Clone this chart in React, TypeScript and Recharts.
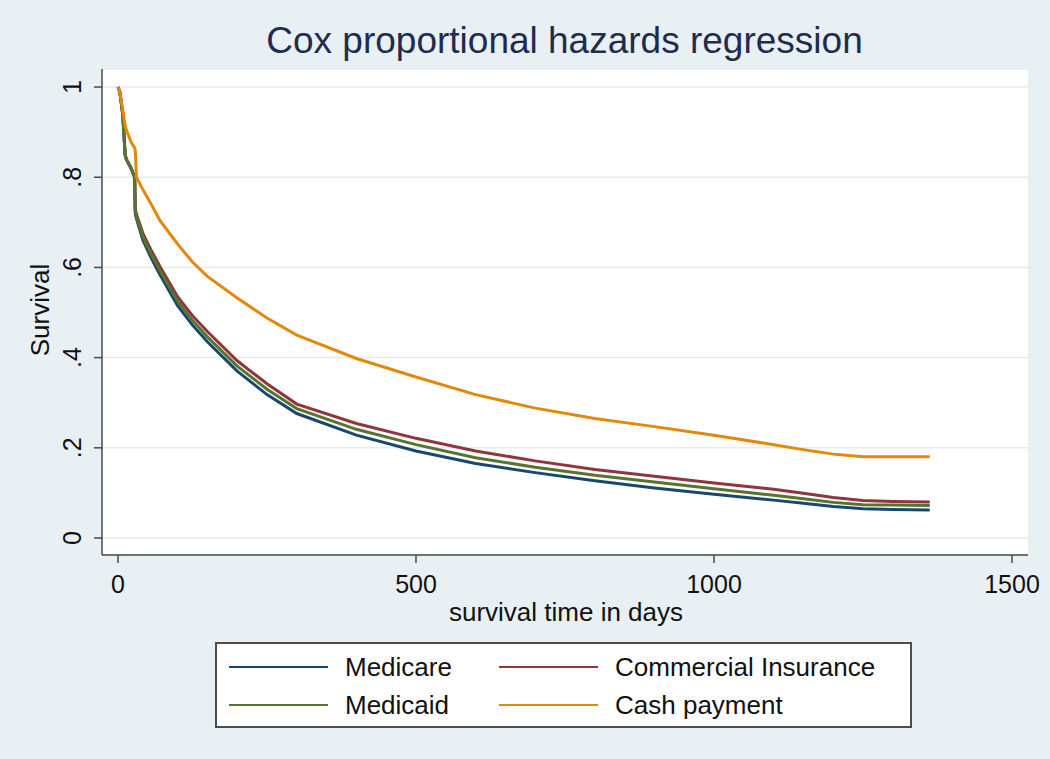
import React from 'react';
import { LineChart, Line, XAxis, YAxis, CartesianGrid } from 'recharts';

// survival estimates, by day
const days = [0, 3, 8, 12, 14, 22, 28, 29, 31, 42, 55, 70, 100, 125, 150, 200, 250, 300, 400, 500, 600, 700, 800, 900, 1000, 1100, 1150, 1200, 1250, 1300, 1362];
const medicare = [1, 0.99, 0.94, 0.85, 0.84, 0.82, 0.8, 0.72, 0.708, 0.66, 0.623, 0.585, 0.515, 0.472, 0.435, 0.37, 0.318, 0.276, 0.228, 0.193, 0.165, 0.145, 0.127, 0.111, 0.097, 0.084, 0.077, 0.07, 0.065, 0.063, 0.062];
const commercial = [1, 0.99, 0.94, 0.85, 0.84, 0.82, 0.8, 0.73, 0.718, 0.675, 0.64, 0.603, 0.535, 0.493, 0.458, 0.393, 0.342, 0.297, 0.254, 0.221, 0.193, 0.171, 0.152, 0.137, 0.122, 0.108, 0.099, 0.09, 0.083, 0.081, 0.08];
const medicaid = [1, 0.99, 0.94, 0.85, 0.84, 0.82, 0.8, 0.725, 0.713, 0.667, 0.631, 0.594, 0.525, 0.482, 0.446, 0.381, 0.33, 0.287, 0.241, 0.207, 0.178, 0.157, 0.139, 0.124, 0.109, 0.095, 0.087, 0.079, 0.074, 0.073, 0.072];
const cash = [1, 0.99, 0.95, 0.915, 0.905, 0.878, 0.865, 0.86, 0.8, 0.772, 0.742, 0.705, 0.652, 0.612, 0.58, 0.532, 0.488, 0.45, 0.398, 0.357, 0.318, 0.288, 0.265, 0.247, 0.228, 0.207, 0.196, 0.186, 0.18, 0.18, 0.18];

const xTicks = [0, 500, 1000, 1500];
const yTicks = [0, 0.2, 0.4, 0.6, 0.8, 1];
const yTickLabels = ['0', '.2', '.4', '.6', '.8', '1'];

const series = [
  { key: 'medicare', name: 'Medicare', color: '#1a476f' },
  { key: 'commercial', name: 'Commercial Insurance', color: '#90353b' },
  { key: 'medicaid', name: 'Medicaid', color: '#55752f' },
  { key: 'cash', name: 'Cash payment', color: '#e3890a' },
];

const data = days.map((day, i) => ({
  day,
  medicare: medicare[i],
  commercial: commercial[i],
  medicaid: medicaid[i],
  cash: cash[i],
}));

const font = '"Liberation Sans", Arial, sans-serif';
const axisColor = '#4a4a4a';

const YTick = (props: any) => {
  const { x, y, payload } = props;
  const idx = yTicks.indexOf(payload.value);
  return (
    <text
      transform={`translate(${x - 13}, ${y}) rotate(-90)`}
      textAnchor="middle"
      fontSize={25}
      fontFamily={font}
      fill="#111"
    >
      {idx >= 0 ? yTickLabels[idx] : payload.value}
    </text>
  );
};

const XTick = (props: any) => {
  const { x, y, payload } = props;
  return (
    <text x={x} y={y} dy="0.71em" textAnchor="middle" fontSize={25} fontFamily={font} fill="#111">
      {payload.value}
    </text>
  );
};

const App: React.FC = () => {
  return (
    <div
      style={{
        position: 'absolute',
        left: 0,
        top: 0,
        width: 1050,
        height: 759,
        background: '#e9f0f3',
        fontFamily: font,
        overflow: 'hidden',
      }}
    >
      <div
        style={{
          position: 'absolute',
          left: 0,
          width: 1129,
          top: 20,
          textAlign: 'center',
          fontSize: 37,
          color: '#1e2d4f',
          whiteSpace: 'nowrap',
        }}
      >
        Cox proportional hazards regression
      </div>

      <div style={{ position: 'absolute', left: 0, top: 0 }}>
        <LineChart
          width={1050}
          height={759}
          data={data}
          margin={{ top: 69, right: 22, bottom: 144, left: 42 }}
        >
          <CartesianGrid
            horizontal
            vertical={false}
            stroke="#e6ebec"
            strokeWidth={1.5}
            fill="#ffffff"
          />
          <XAxis
            dataKey="day"
            type="number"
            domain={[-26.8, 1526.8]}
            ticks={xTicks}
            allowDataOverflow
            height={60}
            tickSize={8}
            tickMargin={12}
            stroke={axisColor}
            strokeWidth={1.5}
            tick={<XTick />}
          />
          <YAxis
            type="number"
            domain={[-0.0377, 1.04]}
            ticks={yTicks}
            allowDataOverflow
            width={60}
            tickSize={8}
            tickMargin={0}
            stroke={axisColor}
            strokeWidth={1.5}
            tick={<YTick />}
          />
          {series.map((s) => (
            <Line
              key={s.key}
              type="linear"
              dataKey={s.key}
              name={s.name}
              stroke={s.color}
              strokeWidth={3}
              dot={false}
              isAnimationActive={false}
            />
          ))}
        </LineChart>
      </div>

      <div
        style={{
          position: 'absolute',
          left: 40,
          top: 310,
          fontSize: 26,
          color: '#111',
          transform: 'translate(-50%, -50%) rotate(-90deg)',
          whiteSpace: 'nowrap',
        }}
      >
        Survival
      </div>
      <div
        style={{
          position: 'absolute',
          left: 0,
          width: 1132,
          top: 597,
          textAlign: 'center',
          fontSize: 26,
          color: '#111',
          whiteSpace: 'nowrap',
        }}
      >
        survival time in days
      </div>

      <div
        style={{
          position: 'absolute',
          left: 215,
          top: 642,
          width: 697,
          height: 86,
          boxSizing: 'border-box',
          border: '2px solid #4d4d4d',
          background: '#ffffff',
          display: 'grid',
          gridTemplateColumns: '270px 1fr',
          gridTemplateRows: '38px 38px',
          paddingTop: 4,
          paddingLeft: 12,
        }}
      >
        {series.map((s) => (
          <div key={s.key} style={{ display: 'flex', alignItems: 'center' }}>
            <div style={{ width: 99, flex: 'none', height: 0, borderTop: `2.5px solid ${s.color}`, marginRight: 17 }} />
            <span style={{ fontSize: 26, color: '#111', whiteSpace: 'nowrap' }}>{s.name}</span>
          </div>
        ))}
      </div>
    </div>
  );
};

export default App;
